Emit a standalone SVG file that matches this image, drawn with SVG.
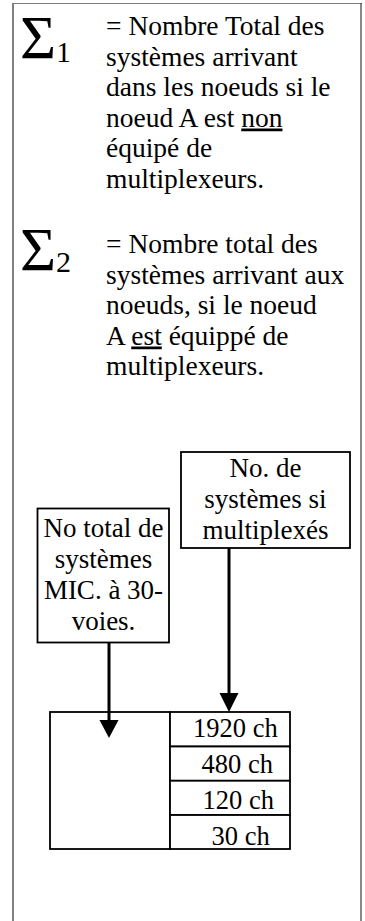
<svg xmlns="http://www.w3.org/2000/svg" width="365" height="921" viewBox="0 0 365 921">
<style>
text{font-family:"Liberation Serif","Times New Roman",serif;fill:#000}
.t{font-size:27.5px}
.c{font-size:27px;text-anchor:middle}
.s{font-size:26.5px}
.sig{font-size:62px}
.sub{font-size:30px}
.box{fill:#fff;stroke:#000;stroke-width:1.8}
.conn{stroke:#000;stroke-width:3;fill:none}
.head{fill:#000}
.u{text-decoration:underline}
</style>
<rect width="365" height="921" fill="#fff"/>
<g id="frame" fill="none">
<line x1="13" y1="3" x2="13" y2="921" stroke="#808080" stroke-width="2"/>
<line x1="12" y1="3.5" x2="362" y2="3.5" stroke="#808080" stroke-width="1.2"/>
<line x1="361" y1="3" x2="361" y2="921" stroke="#555" stroke-width="1.4"/>
</g>
<g id="sigma1">
<text x="20" y="58" class="sig">Σ<tspan class="sub" dy="4">1</tspan></text>
<text class="t" x="106">
<tspan x="106" y="35">= Nombre Total des</tspan>
<tspan x="106" y="65.5">systèmes arrivant</tspan>
<tspan x="106" y="96">dans les noeuds si le</tspan>
<tspan x="106" y="126.5">noeud A est  <tspan class="u">non</tspan></tspan>
<tspan x="106" y="157">équipé de</tspan>
<tspan x="106" y="187.5">multiplexeurs.</tspan>
</text>
</g>
<g id="sigma2">
<text x="20" y="270" class="sig">Σ<tspan class="sub" dy="2">2</tspan></text>
<text class="t" x="106">
<tspan x="106" y="253">= Nombre total des</tspan>
<tspan x="106" y="283.5">systèmes arrivant aux</tspan>
<tspan x="106" y="314">noeuds, si le noeud</tspan>
<tspan x="106" y="344.5">A <tspan class="u">est</tspan> équippé de</tspan>
<tspan x="106" y="375">multiplexeurs.</tspan>
</text>
</g>
<g id="node-multiplexes">
<rect class="box" x="181" y="452" width="169" height="96"/>
<text class="c"><tspan x="265.5" y="477">No. de</tspan><tspan x="265.5" y="508">systèmes si</tspan><tspan x="265.5" y="538.5">multiplexés</tspan></text>
</g>
<g id="node-total">
<rect class="box" x="37.5" y="508.5" width="131.5" height="134"/>
<text class="c"><tspan x="103.5" y="537">No total de</tspan><tspan x="103.5" y="568">systèmes</tspan><tspan x="103.5" y="599">MIC. à 30-</tspan><tspan x="103.5" y="630">voies.</tspan></text>
</g>
<g id="node-table">
<rect class="box" x="50" y="712" width="120" height="137"/>
<rect class="box" x="170" y="712" width="120" height="34.5"/>
<rect class="box" x="170" y="746.5" width="120" height="34.25"/>
<rect class="box" x="170" y="780.75" width="120" height="34.25"/>
<rect class="box" x="170" y="815" width="120" height="34"/>
<text class="s" x="193" y="737">1920 ch</text>
<text class="s" x="201.5" y="773">480 ch</text>
<text class="s" x="202.5" y="809">120 ch</text>
<text class="s" x="211.5" y="845">30 ch</text>
</g>
<g id="connectors">
<line class="conn" x1="109" y1="642.5" x2="109" y2="722"/>
<polygon class="head" points="99.5,720 118.5,720 109,738"/>
<line class="conn" x1="229" y1="548" x2="229" y2="695"/>
<polygon class="head" points="219.5,693 238.5,693 229,712"/>
</g>
</svg>
